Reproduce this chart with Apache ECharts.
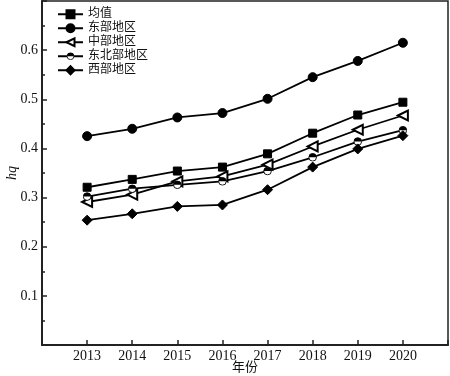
<!DOCTYPE html>
<html>
<head>
<meta charset="utf-8">
<script src="https://cdn.jsdelivr.net/npm/echarts@6/dist/echarts.min.js"></script>
<style>
  html, body { margin: 0; padding: 0; background: #fff; }
  #chart { width: 450px; height: 376px; }
</style>
</head>
<body>
<div id="chart"></div>
<script>
const years = [2013, 2014, 2015, 2016, 2017, 2018, 2019, 2020]
const seriesNames = ['均值', '东部地区', '中部地区', '东北部地区', '西部地区']
const avgVals = [0.321, 0.337, 0.354, 0.362, 0.389, 0.431, 0.468, 0.494]
const eastVals = [0.425, 0.440, 0.463, 0.472, 0.501, 0.545, 0.578, 0.615]
const centralVals = [0.291, 0.306, 0.333, 0.343, 0.367, 0.404, 0.438, 0.467]
const northeastVals = [0.302, 0.318, 0.326, 0.333, 0.354, 0.382, 0.414, 0.437]
const westVals = [0.254, 0.267, 0.282, 0.285, 0.316, 0.362, 0.399, 0.426]

const serif = '"Liberation Serif", "Noto Sans CJK SC", serif'

// half filled circle (top black, bottom white)
const halfCircle = 'image://data:image/svg+xml;utf8,' + encodeURIComponent(
  '<svg xmlns="http://www.w3.org/2000/svg" width="20" height="20" viewBox="0 0 20 20">' +
  '<circle cx="10" cy="10" r="8.5" fill="#fff" stroke="#000" stroke-width="2"/>' +
  '<path d="M1.5 10 A8.5 8.5 0 0 1 18.5 10 Z" fill="#000"/>' +
  '</svg>')

const pairs = vals => years.map((y, i) => [y, vals[i]])

const makeSeries = (name, vals, symbol, size, extra) => Object.assign({
  name: name,
  type: 'line',
  data: pairs(vals),
  symbol: symbol,
  symbolSize: size,
  lineStyle: { color: '#000', width: 1.8 },
  itemStyle: { color: '#000', borderColor: '#000', borderWidth: 1 },
  emphasis: { disabled: true },
  z: 3
}, extra || {})

const chart = echarts.init(document.getElementById('chart'))

chart.setOption({
  animation: false,
  backgroundColor: '#fff',
  grid: {
    left: 42, right: 2, top: 1, bottom: 31,
    containLabel: false,
    outerBoundsMode: 'none',
    show: true, borderColor: '#222', borderWidth: 1.5
  },
  legend: {
    orient: 'vertical',
    left: 52, top: 3,
    itemWidth: 25, itemHeight: 10, itemGap: 1.5,
    data: seriesNames,
    textStyle: { fontFamily: serif, fontSize: 12, lineHeight: 12.5, color: '#111' }
  },
  xAxis: {
    type: 'value',
    min: 2012, max: 2021, interval: 1,
    name: '年份',
    nameLocation: 'middle',
    nameGap: 16,
    nameMoveOverlap: false,
    nameTextStyle: { fontFamily: serif, fontSize: 13, color: '#111' },
    axisLine: { lineStyle: { color: '#222', width: 2 } },
    axisTick: { inside: true, length: 5, lineStyle: { color: '#222', width: 1.5 } },
    axisLabel: {
      margin: 4,
      fontFamily: serif, fontSize: 14, color: '#111',
      formatter: v => (v >= years[0] && v <= years[years.length - 1]) ? String(v) : ''
    },
    splitLine: { show: false }
  },
  yAxis: {
    type: 'value',
    min: 0, max: 0.7, interval: 0.1,
    name: 'hq',
    nameLocation: 'middle',
    nameGap: 23,
    nameMoveOverlap: false,
    nameTextStyle: { fontFamily: serif, fontSize: 14, fontStyle: 'italic', color: '#111' },
    axisLine: { lineStyle: { color: '#222', width: 2 } },
    axisTick: { inside: true, length: 5, lineStyle: { color: '#222', width: 1.5 } },
    minorTick: { show: true, splitNumber: 2, length: 3, lineStyle: { color: '#222', width: 1.5 } },
    axisLabel: {
      margin: 4,
      fontFamily: serif, fontSize: 14, color: '#111',
      formatter: v => (v > 0.001 && v < 0.69) ? v.toFixed(1) : ''
    },
    splitLine: { show: false }
  },
  series: [
    makeSeries('均值', avgVals, 'rect', 8),
    makeSeries('东部地区', eastVals, 'circle', 9),
    makeSeries('中部地区', centralVals, 'emptyTriangle', 10, {
      symbolRotate: 90,
      itemStyle: { color: '#000', borderColor: '#333', borderWidth: 1 }
    }),
    makeSeries('东北部地区', northeastVals, halfCircle, 9),
    makeSeries('西部地区', westVals, 'diamond', 10)
  ]
})
</script>
</body>
</html>
